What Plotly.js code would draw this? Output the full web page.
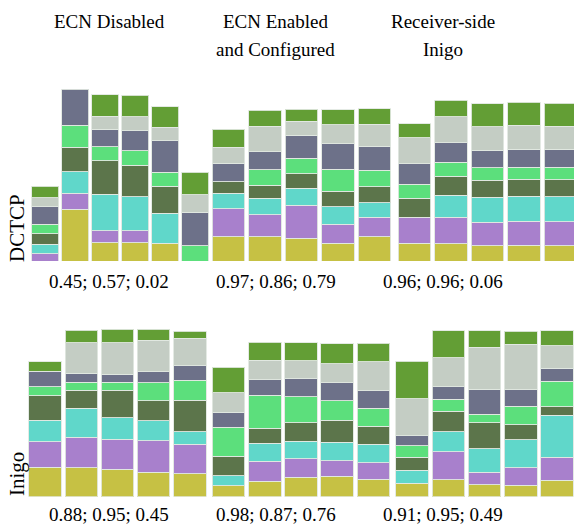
<!DOCTYPE html>
<html>
<head>
<meta charset="utf-8">
<script src="https://cdn.plot.ly/plotly-3.0.1.min.js"></script>
<style>html,body{margin:0;padding:0;background:#fff;}#chart{width:574px;height:525px;}</style>
</head>
<body>
<div id="chart"></div>
<script>
// Layer order bottom -> top
const layerColors = ['#c6c144', '#a880cc', '#60d7ca', '#5c754b', '#5cdf7c', '#6d7189', '#c4cdc4', '#639e35'];

// Each panel: 8 layers (bottom -> top), one value per bar
const dctcpEcnDisabled = [
  [0, 155, 55, 55, 53, 0],
  [22, 49, 36, 36, 0, 0],
  [28, 64, 110, 102, 90, 0],
  [32, 74, 100, 94, 82, 0],
  [29, 65, 42, 44, 42, 46],
  [52, 108, 52, 60, 94, 100],
  [27, 0, 40, 42, 41, 53],
  [35, 0, 64, 64, 61, 67]
];
const dctcpEcnEnabled = [
  [73, 73, 68, 53, 73],
  [84, 66, 100, 57, 58],
  [47, 50, 50, 53, 44],
  [34, 38, 44, 47, 48],
  [0, 47, 46, 66, 50],
  [55, 54, 69, 76, 72],
  [48, 76, 43, 57, 65],
  [54, 49, 35, 45, 47]
];
const dctcpReceiverInigo = [
  [54, 52, 46, 48, 46],
  [77, 79, 71, 71, 72],
  [0, 67, 75, 75, 75],
  [57, 56, 51, 51, 51],
  [43, 42, 37, 37, 37],
  [61, 59, 53, 54, 54],
  [78, 78, 70, 71, 70],
  [42, 49, 69, 69, 68]
];
const inigoEcnDisabled = [
  [89, 87, 83, 74, 69],
  [76, 92, 89, 94, 89],
  [65, 86, 65, 60, 37],
  [73, 55, 83, 60, 94],
  [27, 24, 23, 54, 61],
  [46, 26, 25, 33, 43],
  [0, 92, 94, 94, 83],
  [29, 38, 40, 33, 21]
];
const inigoEcnEnabled = [
  [33, 47, 59, 62, 53],
  [0, 59, 55, 46, 49],
  [30, 54, 53, 56, 55],
  [59, 46, 55, 65, 54],
  [87, 99, 78, 59, 55],
  [45, 46, 54, 54, 52],
  [58, 58, 54, 57, 87],
  [76, 54, 54, 60, 55]
];
const inigoReceiverInigo = [
  [41, 51, 36, 35, 49],
  [0, 84, 38, 52, 69],
  [38, 60, 70, 84, 126],
  [39, 61, 78, 45, 26],
  [35, 37, 25, 55, 76],
  [30, 37, 75, 50, 40],
  [111, 87, 127, 136, 67],
  [113, 81, 49, 39, 45]
];

const columnTitles = [['ECN Disabled'], ['ECN Enabled', 'and Configured'], ['Receiver-side', 'Inigo']];
const rowLabels = ['DCTCP', 'Inigo'];
const dctcpScores = ['0.45; 0.57; 0.02', '0.97; 0.86; 0.79', '0.96; 0.96; 0.06'];
const inigoScores = ['0.88; 0.95; 0.45', '0.98; 0.87; 0.76', '0.91; 0.95; 0.49'];

const W = 574, H = 525;
const SERIF = '"Liberation Serif", serif';
const panels = [
  {data: dctcpEcnDisabled, x0: 30, x1: 210, xr: [-0.5, 5.5], row: 0},
  {data: dctcpEcnEnabled, x0: 210.25, x1: 392.75, xr: [-0.5, 4.5], row: 0},
  {data: dctcpReceiverInigo, x0: 396.25, x1: 574, xr: [-0.5, 4.37], row: 0},
  {data: inigoEcnDisabled, x0: 27, x1: 208, xr: [-0.5, 4.5], row: 1},
  {data: inigoEcnEnabled, x0: 210.5, x1: 391.5, xr: [-0.5, 4.5], row: 1},
  {data: inigoReceiverInigo, x0: 394, x1: 574, xr: [-0.5, 4.47], row: 1}
];
const rowY = [[81, 261], [316.67, 496.67]];

const traces = [];
const layout = {
  width: W, height: H,
  margin: {l: 0, r: 0, t: 0, b: 0},
  paper_bgcolor: '#fff', plot_bgcolor: 'rgba(0,0,0,0)',
  showlegend: false,
  barmode: 'stack',
  bargap: 0.1,
  font: {family: SERIF, color: '#000', size: 19},
  annotations: []
};

panels.forEach((p, i) => {
  const suf = i === 0 ? '' : String(i + 1);
  const n = p.data[0].length;
  const xs = Array.from({length: n}, (_, k) => k);
  p.data.forEach((layer, li) => {
    traces.push({
      type: 'bar',
      x: xs,
      y: layer.map(v => (v === 0 ? null : v)),
      xaxis: 'x' + suf, yaxis: 'y' + suf,
      marker: {color: layerColors[li], line: {color: 'rgba(225,232,225,0.9)', width: 1}},
      hoverinfo: 'skip'
    });
  });
  const [ytop, ybot] = rowY[p.row];
  layout['xaxis' + suf] = {
    domain: [p.x0 / W, p.x1 / W], range: p.xr, anchor: 'y' + suf,
    visible: false, fixedrange: true
  };
  layout['yaxis' + suf] = {
    domain: [1 - ybot / H, 1 - ytop / H], range: [0, 540], anchor: 'x' + suf,
    visible: false, fixedrange: true
  };
});

const textCenters = [109, 275.5, 443];
function ann(text, px, py, extra) {
  return Object.assign({
    text: text, xref: 'paper', yref: 'paper', x: px / W, y: 1 - py / H,
    xanchor: 'center', yanchor: 'middle', showarrow: false, borderpad: 0,
    font: {family: SERIF, size: 19, color: '#000'}
  }, extra || {});
}
columnTitles.forEach((lines, c) => {
  lines.forEach((t, li) => layout.annotations.push(ann(t, textCenters[c], 21.5 + li * 28)));
});
dctcpScores.forEach((t, c) => layout.annotations.push(ann(t, textCenters[c], 281)));
inigoScores.forEach((t, c) => layout.annotations.push(ann(t, textCenters[c], 514.5)));
layout.annotations.push(ann(rowLabels[0], 17, 228, {textangle: -90, font: {family: SERIF, size: 21, color: '#000'}}));
layout.annotations.push(ann(rowLabels[1], 17, 474, {textangle: -90, font: {family: SERIF, size: 21, color: '#000'}}));

Plotly.newPlot('chart', traces, layout, {staticPlot: true, displayModeBar: false});
</script>
</body>
</html>
